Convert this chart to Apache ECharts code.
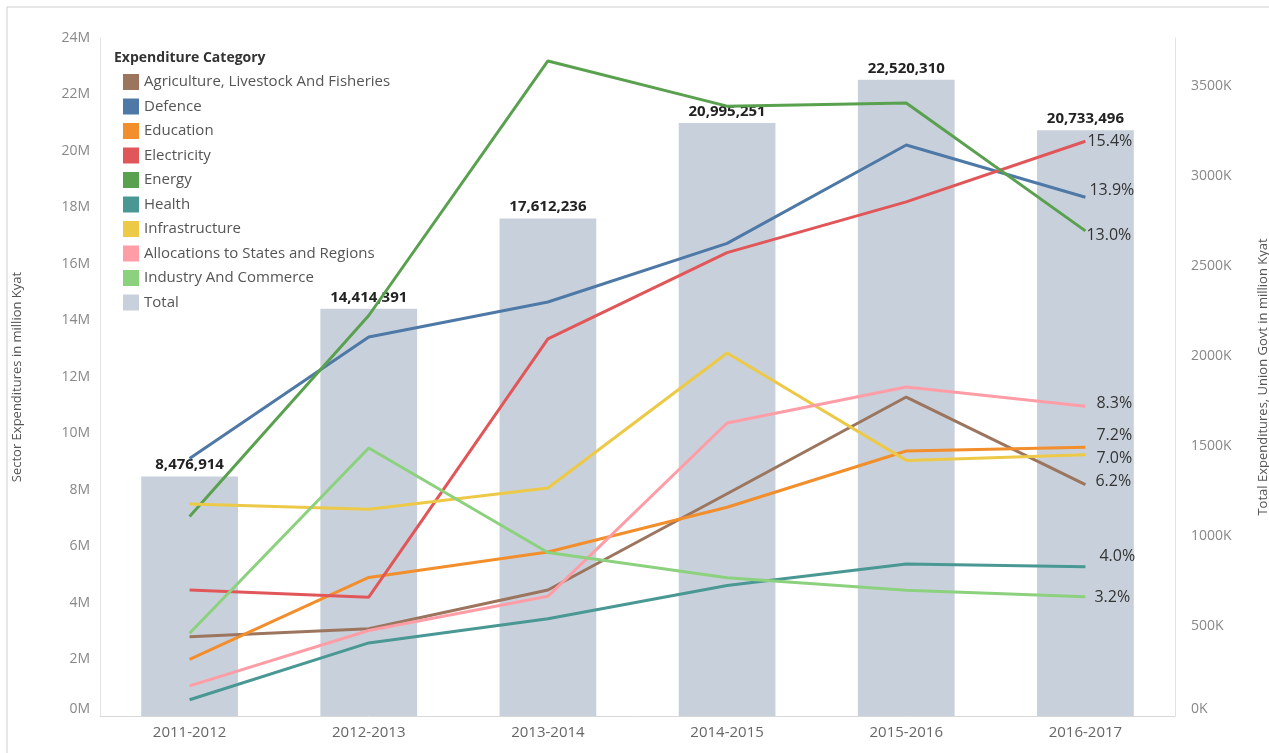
<!DOCTYPE html>
<html>
<head>
<meta charset="utf-8">
<script src="https://cdn.jsdelivr.net/npm/echarts@6/dist/echarts.min.js"></script>
<style>
html,body{margin:0;padding:0;background:#fff;}
#main{width:1269px;height:753px;}
</style>
</head>
<body>
<div id="main"></div>
<script>
// ---- Data ----
const years = ['2011-2012','2012-2013','2013-2014','2014-2015','2015-2016','2016-2017'];
const totalExpenditure = [8476914, 14414391, 17612236, 20995251, 22520310, 20733496];
// Sector values in thousands (right axis, "K")
const agriculture   = [440, 485, 700, 1235, 1772, 1285];
const defence       = [1430, 2106, 2300, 2626, 3172, 2882];
const education     = [315, 770, 911, 1160, 1472, 1493];
const electricity   = [700, 660, 2095, 2574, 2856, 3193];
const energy        = [1108, 2225, 3639, 3388, 3406, 2695];
const health        = [90, 406, 540, 725, 844, 829];
const infrastructure= [1178, 1148, 1267, 2017, 1420, 1451];
const allocations   = [167, 475, 665, 1628, 1828, 1721];
const industry      = [460, 1489, 908, 768, 698, 663];
const endShares = {
  'Agriculture, Livestock And Fisheries':'6.2%',
  'Defence':'13.9%',
  'Education':'7.2%',
  'Electricity':'15.4%',
  'Energy':'13.0%',
  'Health':'4.0%',
  'Infrastructure':'7.0%',
  'Allocations to States and Regions':'8.3%',
  'Industry And Commerce':'3.2%'
};
const leftTicks = {min:0, max:24000000, interval:2000000};
const rightTicks = {min:0, interval:500};

// ---- Styling ----
const font = 'Open Sans';
const sectors = [
  {name:'Agriculture, Livestock And Fisheries', data:agriculture, color:'#9c755f', off:[10,-3]},
  {name:'Defence', data:defence, color:'#4e79a7', off:[4,-7]},
  {name:'Education', data:education, color:'#f28e2b', off:[11,-12]},
  {name:'Electricity', data:electricity, color:'#e15759', off:[2,0]},
  {name:'Energy', data:energy, color:'#59a14f', off:[1,5]},
  {name:'Health', data:health, color:'#499894', off:[14,-10]},
  {name:'Infrastructure', data:infrastructure, color:'#edc948', off:[11,4]},
  {name:'Allocations to States and Regions', data:allocations, color:'#ff9da7', off:[11,-3]},
  {name:'Industry And Commerce', data:industry, color:'#8cd17d', off:[9,1]}
];

const chart = echarts.init(document.getElementById('main'));
const gridTop = 38, gridBottom = 37;
const plotH = 753 - gridTop - gridBottom;
// right axis scale matched to picture: 0.18 px per K
const rightMax = plotH / 0.18;

const series = [{
  name:'Total', type:'bar', yAxisIndex:0, data:totalExpenditure,
  barWidth:'54%', itemStyle:{color:'#c8d1db'}, z:1,
  label:{show:true, position:'top', distance:4, color:'#222', fontFamily:font, fontWeight:'bold', fontSize:15,
    formatter:p=>p.value.toLocaleString('en-US')}
}];
sectors.forEach(s=>{
  series.push({
    name:s.name, type:'line', yAxisIndex:1, data:s.data, symbol:'none', z:3,
    lineStyle:{color:s.color, width:3}, itemStyle:{color:s.color},
    endLabel:{show:true, formatter:()=>endShares[s.name], color:'#333', fontFamily:font, fontSize:16, distance:0, offset:s.off}
  });
});

chart.setOption({
  animation:false,
  textStyle:{fontFamily:font},
  grid:{left:100, right:94, top:gridTop, bottom:gridBottom, containLabel:false, outerBoundsMode:'none'},
  legend:{
    orient:'vertical', left:118, top:69, icon:'rect', itemWidth:16, itemHeight:16, itemGap:8.5,
    textStyle:{color:'#555', fontSize:15, fontFamily:font},
    data:['Agriculture, Livestock And Fisheries','Defence','Education','Electricity','Energy','Health','Infrastructure','Allocations to States and Regions','Industry And Commerce','Total']
  },
  graphic:[
    {type:'text', left:114, top:51, style:{text:'Expenditure Category', fontFamily:font, fontWeight:'bold', fontSize:14, fill:'#333'}},
    {type:'line', shape:{x1:7, y1:7, x2:7, y2:753}, style:{stroke:'#cfcfcf', lineWidth:1}},
    {type:'line', shape:{x1:7, y1:7, x2:1269, y2:7}, style:{stroke:'#cfcfcf', lineWidth:1}}
  ],
  xAxis:{
    type:'category', data:years,
    axisLine:{show:true, lineStyle:{color:'#d8d8d8', width:1}},
    axisTick:{show:false},
    axisLabel:{color:'#666', fontSize:15, fontFamily:font, margin:9}
  },
  yAxis:[{
    type:'value', position:'left', min:leftTicks.min, max:leftTicks.max, interval:leftTicks.interval,
    name:'Sector Expenditures in million Kyat', nameLocation:'middle', nameGap:76, nameRotate:90,
    nameTextStyle:{color:'#555', fontSize:13, fontFamily:font},
    axisLine:{show:true, lineStyle:{color:'#e3e3e3'}}, axisTick:{show:false}, splitLine:{show:false},
    axisLabel:{color:'#888', fontSize:14, fontFamily:font, margin:10, verticalAlignMinLabel:'bottom',
      formatter:v=>(v/1000000)+'M'}
  },{
    type:'value', position:'right', min:rightTicks.min, max:rightMax, interval:rightTicks.interval,
    name:'Total Expenditures, Union Govt in million Kyat', nameLocation:'middle', nameGap:82, nameRotate:90,
    nameTextStyle:{color:'#555', fontSize:13, fontFamily:font},
    axisLine:{show:true, lineStyle:{color:'#e3e3e3'}}, axisTick:{show:false}, splitLine:{show:false},
    axisLabel:{color:'#888', fontSize:14, fontFamily:font, margin:16, showMaxLabel:false, verticalAlignMinLabel:'bottom',
      formatter:v=>v+'K'}
  }],
  series:series
});
</script>
</body>
</html>
